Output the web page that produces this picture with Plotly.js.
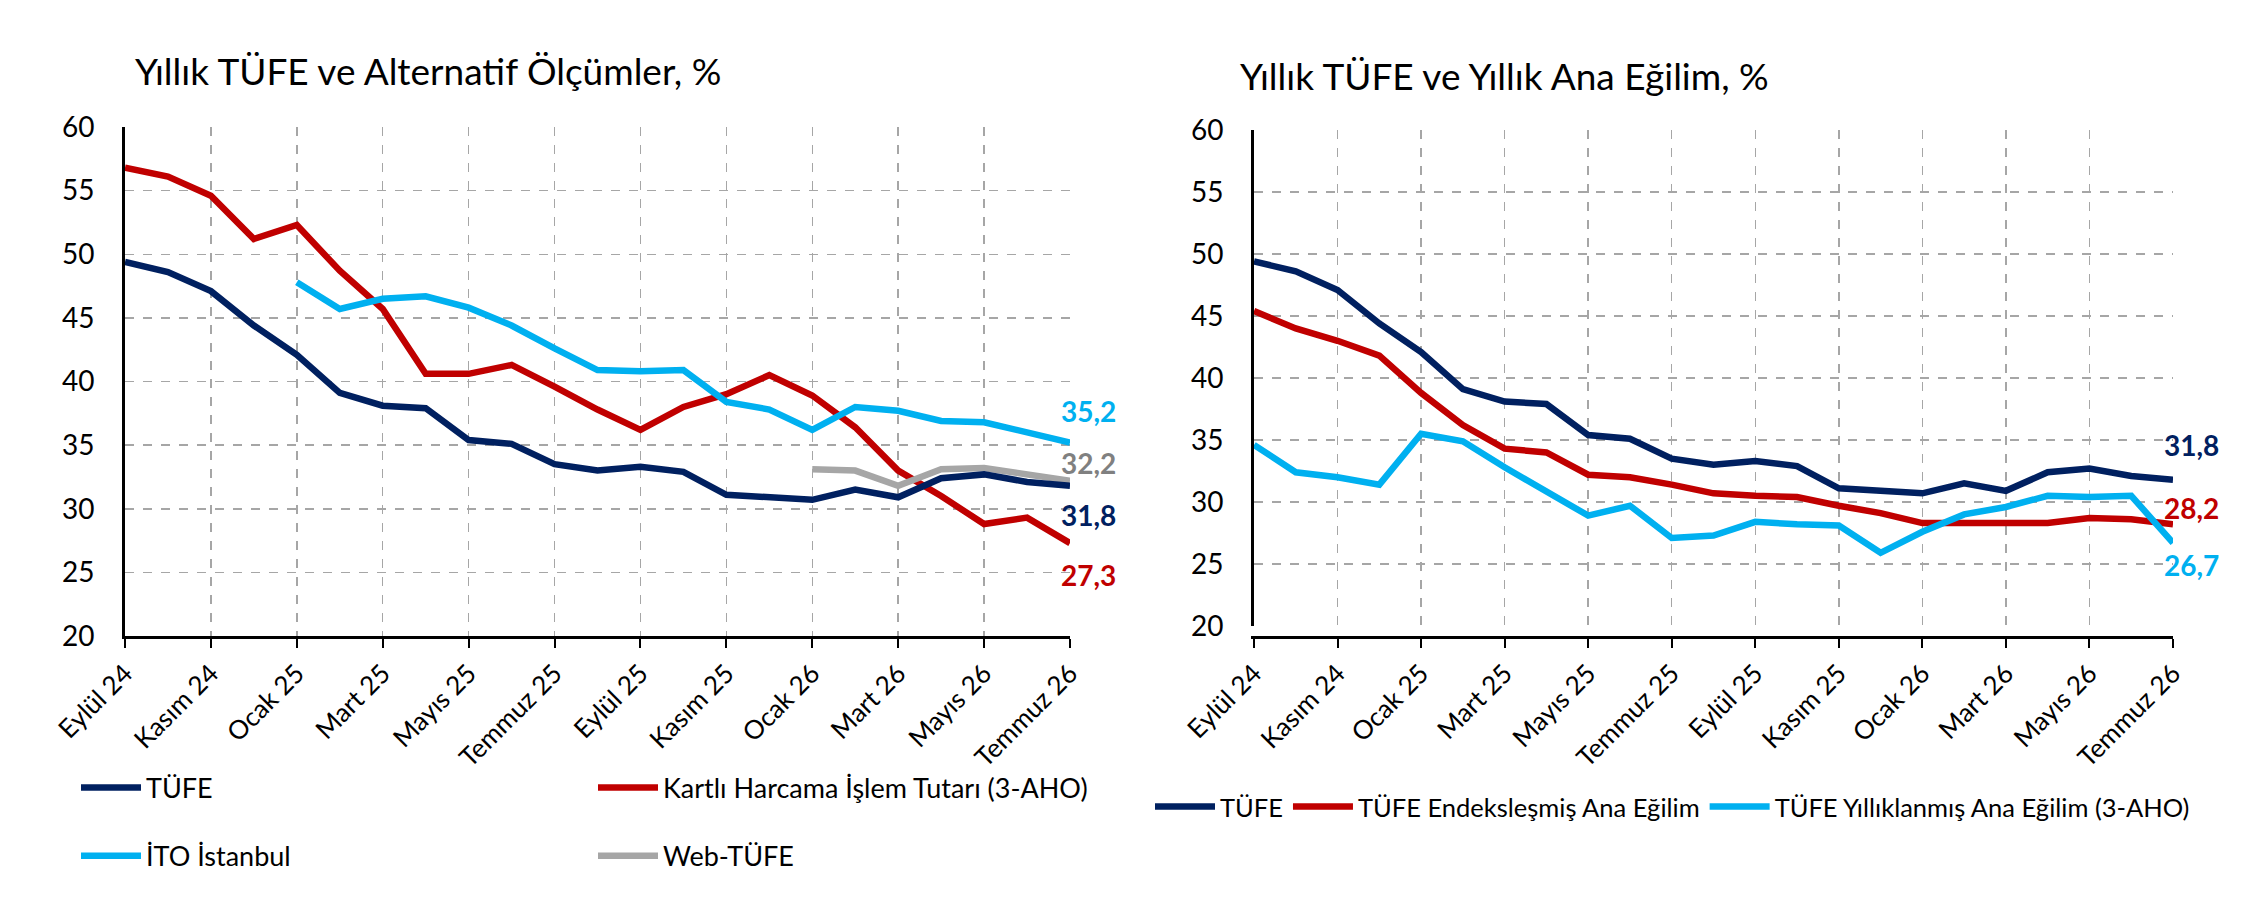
<!DOCTYPE html>
<html>
<head>
<meta charset="utf-8">
<script src="https://cdn.plot.ly/plotly-3.0.1.min.js"></script>
<style>
  html, body { margin: 0; padding: 0; background: #fff; }
  #chart { width: 2258px; height: 920px; }
</style>
</head>
<body>
<div id="chart"></div>
<script>
// months shown on both panels
var MONTHS = ['Eylül 24','Ekim 24','Kasım 24','Aralık 24','Ocak 25','Şubat 25','Mart 25','Nisan 25',
  'Mayıs 25','Haziran 25','Temmuz 25','Ağustos 25','Eylül 25','Ekim 25','Kasım 25','Aralık 25',
  'Ocak 26','Şubat 26','Mart 26','Nisan 26','Mayıs 26','Haziran 26','Temmuz 26'];
var TICK_MONTHS = ['Eylül 24','Kasım 24','Ocak 25','Mart 25','Mayıs 25','Temmuz 25','Eylül 25',
  'Kasım 25','Ocak 26','Mart 26','Mayıs 26','Temmuz 26'];
var Y_TICKS = [20, 25, 30, 35, 40, 45, 50, 55, 60];

// left panel
var tufe = [49.4, 48.6, 47.1, 44.4, 42.1, 39.1, 38.1, 37.9, 35.4, 35.1, 33.5, 33.0,
  33.3, 32.9, 31.1, 30.9, 30.7, 31.5, 30.9, 32.4, 32.7, 32.1, 31.8];
var kartli = [56.8, 56.1, 54.6, 51.2, 52.3, 48.7, 45.7, 40.6, 40.6, 41.3, 39.6, 37.8,
  36.2, 38.0, 39.0, 40.5, 38.9, 36.4, 33.0, 31.0, 28.8, 29.3, 27.3];
var ito = [null, null, null, null, 47.8, 45.7, 46.5, 46.7, 45.8, 44.4, 42.6, 40.9,
  40.8, 40.9, 38.4, 37.8, 36.2, 38.0, 37.7, 36.9, 36.8, 36.0, 35.2];
var webTufe = [null, null, null, null, null, null, null, null, null, null, null, null,
  null, null, null, null, 33.1, 33.0, 31.8, 33.1, 33.2, 32.7, 32.2];

// right panel
var endeks = [45.4, 44.0, 43.0, 41.8, 38.8, 36.2, 34.3, 34.0, 32.2, 32.0, 31.4, 30.7,
  30.5, 30.4, 29.7, 29.1, 28.3, 28.3, 28.3, 28.3, 28.7, 28.6, 28.2];
var yillik = [34.6, 32.4, 32.0, 31.4, 35.5, 34.9, 32.8, 30.8, 28.9, 29.7, 27.1, 27.3,
  28.4, 28.2, 28.1, 25.9, 27.6, 29.0, 29.6, 30.5, 30.4, 30.5, 26.7];

var NAVY = '#002060', RED = '#C00000', CYAN = '#00B0F0', GREY = '#A6A6A6';
var FONT = 'Lato, "Open Sans", sans-serif';
var W = 2258, H = 920;

function line(y, name, color, xa, ya, leg, rank) {
  return { x: MONTHS, y: y, name: name, type: 'scatter', mode: 'lines',
    line: { color: color, width: 6.5 }, xaxis: xa, yaxis: ya,
    legend: leg, legendrank: rank, legendgroup: name + xa, connectgaps: false, hoverinfo: 'skip' };
}

// shorter series drawn above the long ones, legend order kept with legendrank
var data = [
  line(kartli, 'Kartlı Harcama İşlem Tutarı (3-AHO)', RED, 'x', 'y', 'legend2', 1),
  line(ito, 'İTO İstanbul', CYAN, 'x', 'y', 'legend', 2),
  line(webTufe, 'Web-TÜFE', GREY, 'x', 'y', 'legend2', 2),
  line(tufe, 'TÜFE', NAVY, 'x', 'y', 'legend', 1),
  line(endeks, 'TÜFE Endeksleşmiş Ana Eğilim', RED, 'x2', 'y2', 'legend3', 2),
  line(yillik, 'TÜFE Yıllıklanmış Ana Eğilim (3-AHO)', CYAN, 'x2', 'y2', 'legend3', 3),
  line(tufe, 'TÜFE', NAVY, 'x2', 'y2', 'legend3', 1)
];

function xAxis(px0, px1) {
  return { type: 'category', domain: [px0 / W, px1 / W], range: [0, MONTHS.length - 1],
    tickmode: 'array', tickvals: TICK_MONTHS, ticktext: TICK_MONTHS, tickangle: -45,
    ticks: 'outside', ticklen: 9, tickwidth: 2, tickcolor: '#000',
    showline: true, linecolor: '#000', linewidth: 3,
    showgrid: true, gridcolor: '#A6A6A6', griddash: 'dash', gridwidth: 1.5,
    tickfont: { family: FONT, size: 26, color: '#000' }, zeroline: false, fixedrange: true };
}
function yAxis(py0, py1, anchor) {
  return { domain: [(H - py1) / H, (H - py0) / H], range: [20, 60], anchor: anchor,
    tickmode: 'array', tickvals: Y_TICKS, ticks: 'outside', ticklen: 22, tickcolor: 'rgba(0,0,0,0)',
    showline: true, linecolor: '#000', linewidth: 3,
    showgrid: true, gridcolor: '#A6A6A6', griddash: 'dash', gridwidth: 1.5,
    tickfont: { family: FONT, size: 28, color: '#000' }, zeroline: false, fixedrange: true };
}

function fmt(v) { return v.toFixed(1).replace('.', ','); }
function endLabel(series, color, xref, yref, dy) {
  return { x: MONTHS[MONTHS.length - 1], y: series[series.length - 1], xref: xref, yref: yref,
    text: fmt(series[series.length - 1]), showarrow: false, xanchor: 'center', yanchor: 'middle',
    xshift: 18, yshift: dy, font: { family: FONT, size: 28, color: color, weight: 'bold' } };
}
function title(text, px, py) {
  return { text: text, xref: 'paper', yref: 'paper', x: px / W, y: (H - py) / H,
    xanchor: 'left', yanchor: 'middle', showarrow: false,
    font: { family: FONT, size: 37, color: '#000' } };
}

var legendBase = { font: { family: FONT, size: 27, color: '#000' }, bgcolor: 'rgba(0,0,0,0)',
  xref: 'paper', yref: 'paper', xanchor: 'left', yanchor: 'middle', tracegroupgap: 30,
  itemwidth: 60, itemclick: false, itemdoubleclick: false };

var layout = {
  width: W, height: H,
  margin: { l: 0, r: 0, t: 0, b: 0 },
  paper_bgcolor: '#fff', plot_bgcolor: '#fff',
  showlegend: true, hovermode: false,
  xaxis: xAxis(125, 1070),
  yaxis: yAxis(127, 636, 'x'),
  xaxis2: xAxis(1254, 2173),
  yaxis2: yAxis(130, 626, 'x2'),
  legend: Object.assign({}, legendBase, { x: 76 / W, y: (H - 822) / H, orientation: 'v' }),
  legend2: Object.assign({}, legendBase, { x: 593 / W, y: (H - 822) / H, orientation: 'v' }),
  legend3: Object.assign({}, legendBase, { x: 1150 / W, y: (H - 807) / H, orientation: 'h',
    font: { family: FONT, size: 25.5, color: '#000' } }),
  annotations: [
    title('Yıllık TÜFE ve Alternatif Ölçümler, %', 133, 70),
    title('Yıllık TÜFE ve Yıllık Ana Eğilim, %', 1238, 75),
    endLabel(ito, CYAN, 'x', 'y', 32),
    endLabel(webTufe, '#808080', 'x', 'y', 18),
    endLabel(tufe, NAVY, 'x', 'y', -29),
    endLabel(kartli, RED, 'x', 'y', -32),
    endLabel(tufe, NAVY, 'x2', 'y2', 35),
    endLabel(endeks, RED, 'x2', 'y2', 16),
    endLabel(yillik, CYAN, 'x2', 'y2', -22)
  ]
};

Plotly.newPlot('chart', data, layout, { displayModeBar: false, staticPlot: true });
</script>
</body>
</html>
